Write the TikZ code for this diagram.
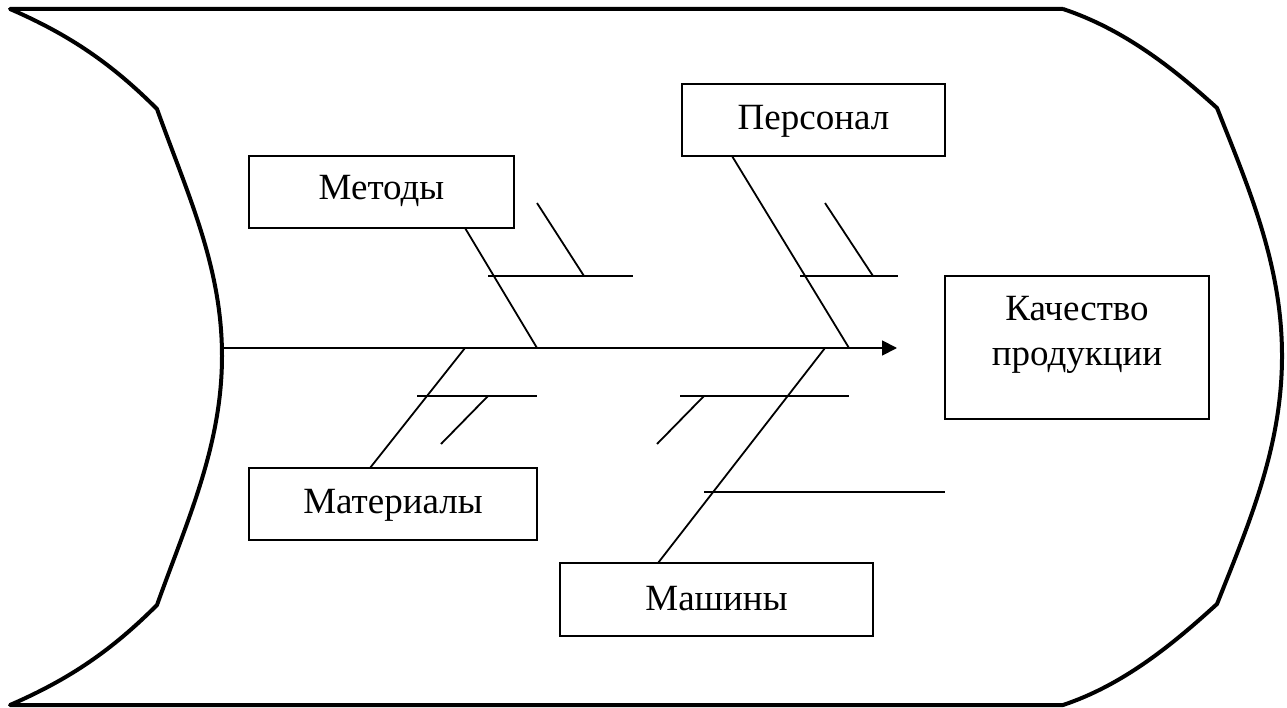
\documentclass[tikz,border=0pt]{standalone}
\usepackage{fontspec}
\setmainfont{Liberation Serif}
\usetikzlibrary{arrows.meta}
\begin{document}
\begin{tikzpicture}[x=1pt,y=-1pt,
  frame/.style={line width=4pt, line join=round},
  bone/.style={line width=1.8pt},
  box/.style={draw, line width=1.8pt, inner sep=0pt, rectangle},
  lbl/.style={anchor=base, font=\fontsize{37}{44}\selectfont, inner sep=0pt}]
\useasboundingbox (0,0) rectangle (1287,708);

% outer fish outline
\draw[frame] (1063,9) -- (10,9)
  .. controls (70,35) and (112,64) .. (157,109)
  .. controls (187,193) and (222,266) .. (222,356)
  .. controls (222,446) and (187,521) .. (157,605)
  .. controls (112,650) and (70,679) .. (10,705)
  -- (1063,705)
  .. controls (1123,685) and (1172,645) .. (1217,604)
  .. controls (1250,521) and (1282,446) .. (1282,356)
  .. controls (1282,266) and (1250,191) .. (1217,108)
  .. controls (1172,67) and (1123,29) .. (1063,9);

% boxes
\node[box, minimum width=265pt, minimum height=72pt] (met) at (381.5,192) {};
\node[box, minimum width=263pt, minimum height=72pt] (per) at (813.5,120) {};
\node[box, minimum width=288pt, minimum height=72pt] (mat) at (393,504) {};
\node[box, minimum width=313pt, minimum height=73pt] (mash) at (716.5,599.5) {};
\node[box, minimum width=264pt, minimum height=143pt] (kach) at (1077,347.5) {};

% labels
\node[lbl] (tmet) at (381.5,200) {Методы};
\node[lbl] (tper) at (813.5,130) {Персонал};
\node[lbl] (tmat) at (393,513) {Материалы};
\node[lbl] (tmash) at (716.5,610) {Машины};
\node[lbl] (tk1) at (1077,321) {Качество};
\node[lbl] (tk2) at (1077,366) {продукции};

% spine
\coordinate (tail) at (222,348);
\coordinate (head) at (897,348);
\draw[bone, -{Triangle[length=15pt,width=15pt]}] (tail) -- (head);

% Methods
\coordinate (m0) at (465,228); \coordinate (m1) at (537,348);
\coordinate (mh0) at (488,276); \coordinate (mh1) at (633,276);
\coordinate (md0) at (537,203); \coordinate (md1) at (584,276);
\draw[bone] (m0) -- (m1);
\draw[bone] (mh0) -- (mh1);
\draw[bone] (md0) -- (md1);

% Personal
\coordinate (p0) at (732,156); \coordinate (p1) at (849,348);
\coordinate (ph0) at (800,276); \coordinate (ph1) at (898,276);
\coordinate (pd0) at (825,203); \coordinate (pd1) at (873,276);
\draw[bone] (p0) -- (p1);
\draw[bone] (ph0) -- (ph1);
\draw[bone] (pd0) -- (pd1);

% Materials
\coordinate (a0) at (465,348); \coordinate (a1) at (370,468);
\coordinate (ah0) at (417,396); \coordinate (ah1) at (537,396);
\coordinate (ad0) at (488,396); \coordinate (ad1) at (441,444);
\draw[bone] (a0) -- (a1);
\draw[bone] (ah0) -- (ah1);
\draw[bone] (ad0) -- (ad1);

% Machines
\coordinate (c0) at (825,348); \coordinate (c1) at (658,563);
\coordinate (ch0) at (680,396); \coordinate (ch1) at (849,396);
\coordinate (cd0) at (704,396); \coordinate (cd1) at (657,444);
\coordinate (cg0) at (704,492); \coordinate (cg1) at (945,492);
\draw[bone] (c0) -- (c1);
\draw[bone] (ch0) -- (ch1);
\draw[bone] (cd0) -- (cd1);
\draw[bone] (cg0) -- (cg1);
\end{tikzpicture}
\end{document}
